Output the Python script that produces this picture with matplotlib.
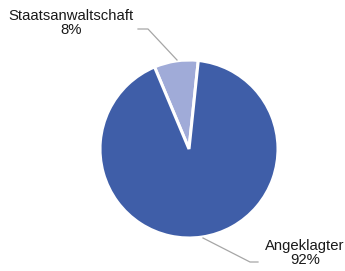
import matplotlib
matplotlib.use("Agg")
from matplotlib import pyplot as plt

labels = ["Staatsanwaltschaft", "Angeklagter"]
shares = [8, 92]
colors = ["#a0abd8", "#3f5ea8"]

plt.rcParams['font.family'] = ['Liberation Sans', 'DejaVu Sans']

W, H = 345, 271
fig = plt.figure(figsize=(W / 100, H / 100), dpi=100)
ax = fig.add_axes([0, 0, 1, 1])

cx, cy, r = 189, H - 149, 89
ax.pie(shares, colors=colors, startangle=84, counterclock=True,
       center=(cx, cy), radius=r,
       wedgeprops=dict(edgecolor='white', linewidth=2.2))
# pie resets the limits, so set them afterwards
ax.set_xlim(0, W)
ax.set_ylim(0, H)
ax.set_aspect('equal')
ax.axis('off')

# leader lines
ax.plot([138, 148, 177], [H - 29, H - 29, H - 60], color='#a6a6a6', lw=0.9)
ax.plot([203, 250, 258], [H - 238, H - 262, H - 262], color='#a6a6a6', lw=0.9)

ax.text(71, H - 23, "%s\n%d%%" % (labels[0], shares[0]), ha='center', va='center',
        fontsize=10.7, color='#1a1a1a', linespacing=1.05)
ax.text(305, H - 253, "%s\n%d%%" % (labels[1], shares[1]), ha='center', va='center',
        fontsize=10.7, color='#1a1a1a', linespacing=1.05)

fig.savefig("out.png", dpi=100)
